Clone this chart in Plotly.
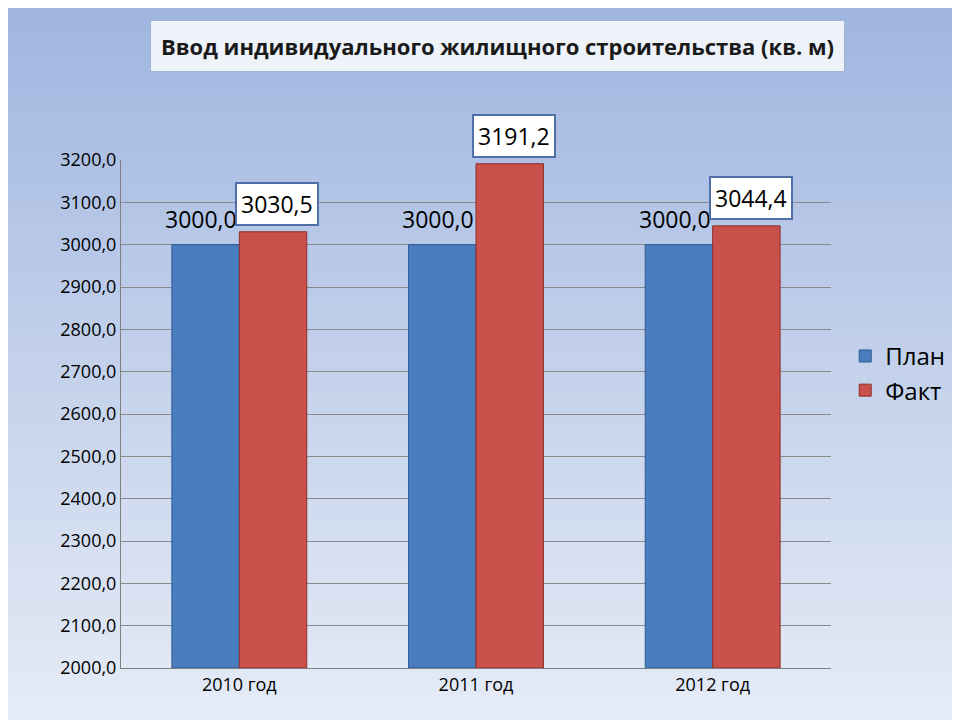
import plotly.graph_objects as go

categories = ["2010 год", "2011 год", "2012 год"]
plan = [3000.0, 3000.0, 3000.0]
fact = [3030.5, 3191.2, 3044.4]
tick_vals = [2000 + 100 * i for i in range(13)]

def fmt(v):
    return f"{v:.1f}".replace(".", ",")

fig = go.Figure()
fig.add_bar(name="План", x=categories, y=[v - 2000 for v in plan], base=2000,
            marker=dict(color="#4a7cc0", line=dict(color="#2f5a93", width=1)),
            hoverinfo="skip")
fig.add_bar(name="Факт", x=categories, y=[v - 2000 for v in fact], base=2000,
            marker=dict(color="#c9504b", line=dict(color="#8e2f2c", width=1)),
            hoverinfo="skip")

shapes = []
n = 40
top = (160, 182, 224)
bot = (232, 238, 248)
for i in range(n):
    t = i / (n - 1)
    c = tuple(int(top[k] + (bot[k] - top[k]) * t) for k in range(3))
    shapes.append(dict(type="rect", xref="paper", yref="paper", layer="below",
                       x0=-0.3, x1=1.4, y0=1.32 - (i + 1) * 1.48 / n, y1=1.32 - i * 1.48 / n + 0.002,
                       fillcolor=f"rgb{c}", line=dict(width=0)))

annotations = []
for i, c in enumerate(categories):
    annotations.append(dict(x=c, y=plan[i], text=fmt(plan[i]), xshift=-38, yshift=26,
                            showarrow=False, font=dict(size=23, color="black")))
    annotations.append(dict(x=c, y=fact[i], text=fmt(fact[i]), xshift=38, yshift=28,
                            showarrow=False, font=dict(size=23, color="black"),
                            bgcolor="white", bordercolor="#4f6fa8", borderwidth=2, borderpad=4))
annotations.append(dict(xref="paper", yref="paper", x=0.53, y=1.225,
                        text="<b>Ввод индивидуального жилищного строительства (кв. м)</b>",
                        xanchor="center", yanchor="middle", showarrow=False, font=dict(size=22, color="#1a1a1a"),
                        bgcolor="#eef2f9", bordercolor="#9fb3d6", borderwidth=1, borderpad=10))

fig.update_layout(
    width=960, height=720, barmode="group", bargap=0.43, bargroupgap=0,
    paper_bgcolor="#b8c8e6", plot_bgcolor="rgba(0,0,0,0)",
    font=dict(family="Open Sans, DejaVu Sans", color="black"),
    margin=dict(l=113, r=137, t=152, b=60),
    shapes=shapes, annotations=annotations,
    xaxis=dict(showline=True, linecolor="#808080", tickfont=dict(size=18), ticks=""),
    yaxis=dict(range=[2000, 3200], tickvals=tick_vals, ticktext=[fmt(v) for v in tick_vals],
               tickfont=dict(size=18), showgrid=True, gridcolor="#8a8a8a", gridwidth=1,
               showline=True, linecolor="#808080", zeroline=False),
    legend=dict(x=1.02, y=0.58, xanchor="left", yanchor="middle", font=dict(size=24),
                bgcolor="rgba(0,0,0,0)", tracegroupgap=10),
)
fig.write_html("out.html")
